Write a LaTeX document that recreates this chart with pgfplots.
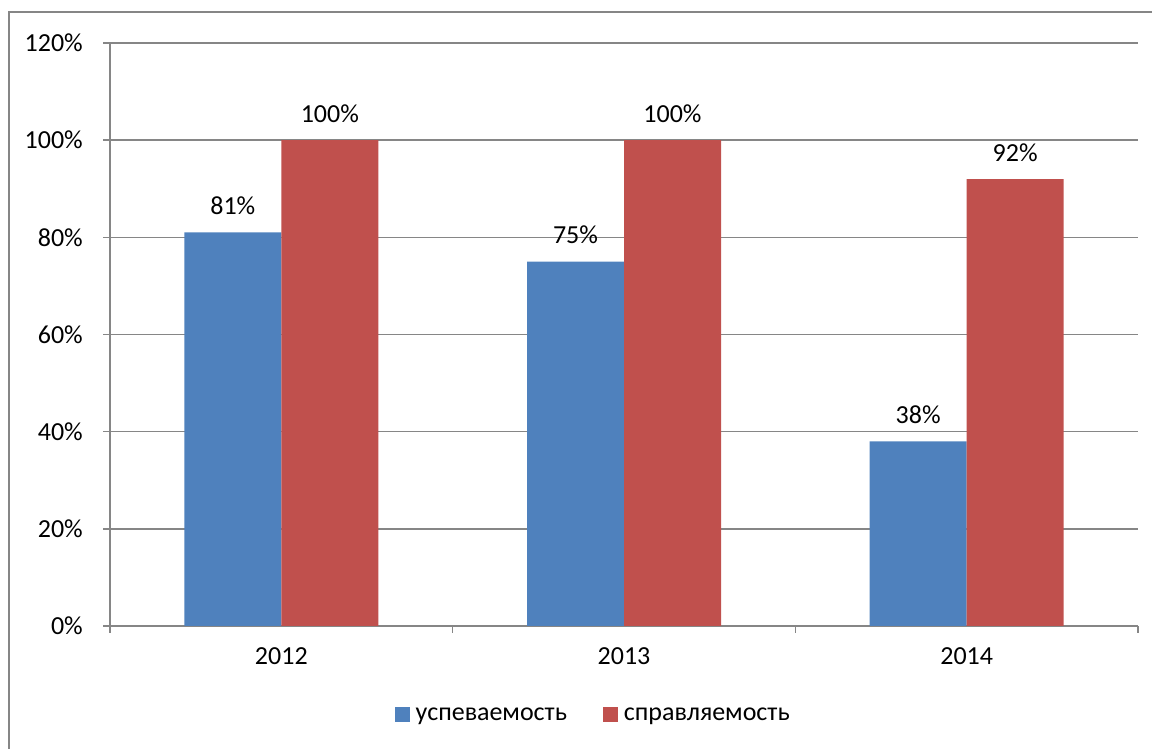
\documentclass[border=0pt]{standalone}
\usepackage{pgfplots}
\pgfplotsset{compat=1.18}
\usepackage{fontspec}
\setmainfont{Carlito}
\definecolor{blueb}{HTML}{4F81BD}
\definecolor{redb}{HTML}{C0504D}
\definecolor{gridg}{HTML}{868686}
\begin{document}
\begin{tikzpicture}[x=1pt,y=1pt]
\useasboundingbox (0,0) rectangle (1152,749);
\draw[gridg, line width=1.6pt] (9,0) -- (9,737) -- (1152,737);
\begin{axis}[
  /pgf/number format/assume math mode=true,
  at={(110pt,123pt)}, anchor=south west,
  scale only axis, width=1028pt, height=583pt,
  ybar=0pt, bar width=97pt,
  xmin=-0.5, xmax=2.5, ymin=0, ymax=120,
  xtick={-0.5,0.5,1.5,2.5}, xticklabels={2012,2013,2014},
  x tick label as interval,
  ytick={0,20,...,120},
  yticklabel={\pgfmathprintnumber{\tick}\%},
  axis lines*=left,
  axis line style={draw=gridg, line width=1.6pt},
  tick style={draw=gridg, line width=1.6pt},
  tick align=outside, major tick length=7pt,
  ymajorgrids, grid style={draw=gridg, line width=1.6pt},
  tick label style={font=\fontsize{26}{31}\selectfont, text=black},
  y tick label style={inner sep=0pt, xshift=-20pt},
  x tick label style={inner sep=0pt, yshift=-14pt},
  nodes near coords={\pgfmathprintnumber{\pgfplotspointmeta}\%},
  every node near coord/.append style={font=\fontsize{26}{31}\selectfont, text=black, anchor=base, inner sep=0pt, yshift=18pt},
  legend columns=2,
  legend style={at={(0.47,-0.153)}, anchor=center, draw=none, fill=none,
    font=\fontsize{26}{31}\selectfont,
    /tikz/every odd column/.append style={column sep=4pt},
    /tikz/every even column/.append style={column sep=34pt}},
  legend image code/.code={\fill[#1] (0pt,-7pt) rectangle (15pt,8pt);},
]
\addplot[fill=blueb, draw=none] coordinates {(0,81) (1,75) (2,38)};
\addplot[fill=redb, draw=none] coordinates {(0,100) (1,100) (2,92)};
\legend{успеваемость, справляемость}
\end{axis}
\end{tikzpicture}
\end{document}
